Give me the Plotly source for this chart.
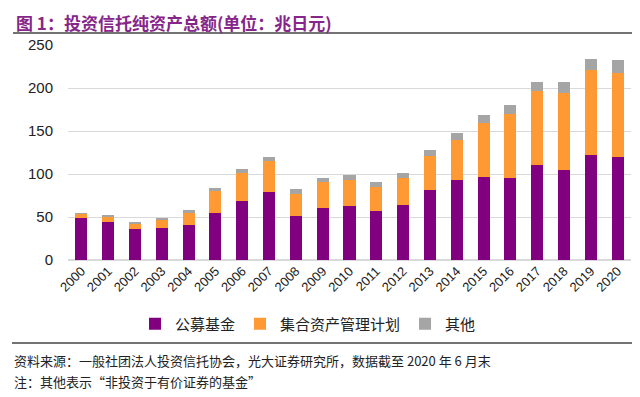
import plotly.graph_objects as go

years = [str(y) for y in range(2000, 2021)]
public_funds = [48.4, 44.6, 35.7, 36.8, 40.3, 54.7, 68.2, 79.1, 51.2, 60.5, 62.8, 56.6, 63.6, 81.0, 92.6, 96.9, 95.7, 110.1, 104.3, 122.5, 119.8]
collective = [5.1, 5.8, 6.9, 10.5, 15.5, 25.5, 32.6, 35.6, 25.9, 29.8, 30.6, 28.7, 31.7, 39.9, 46.9, 62.0, 73.7, 86.0, 89.9, 98.8, 98.0]
others = [0.4, 1.9, 2.0, 1.9, 2.3, 3.5, 5.0, 5.5, 5.1, 5.4, 5.4, 5.0, 5.5, 7.4, 8.2, 9.7, 10.8, 11.3, 12.4, 12.8, 14.4]
series_names = ["公募基金", "集合资产管理计划", "其他"]
colors = ["#800080", "#FF9933", "#A5A5A5"]
y_ticks = [0, 50, 100, 150, 200, 250]

# page has an 8px body margin: work in page pixels, convert to figure pixels
OFF = 8
W, H = 640 - OFF, 397 - OFF
L, R, T, B = 68 - OFF, W - (631 - OFF), 45 - OFF, H - (260 - OFF)
PW, PH = W - L - R, H - T - B

def px(x):
    return (x - OFF - L) / PW

def py(y):
    return (H - B - (y - OFF)) / PH

fig = go.Figure()
for name, vals, c in zip(series_names, [public_funds, collective, others], colors):
    fig.add_trace(go.Bar(x=years, y=vals, name=name, marker=dict(color=c, line=dict(width=0))))

fig.update_layout(
    width=W, height=H,
    barmode="stack", bargap=0.55,
    plot_bgcolor="white", paper_bgcolor="white",
    margin=dict(l=L, r=R, t=T, b=B, autoexpand=False),
    font=dict(family="Liberation Sans, Noto Sans CJK SC", color="#222222"),
    xaxis=dict(type="category", tickangle=-45, tickfont=dict(size=13, color="#222222"),
               showline=False, ticks="", showgrid=False, automargin=False),
    yaxis=dict(range=[0, 250], tickvals=y_ticks, tickfont=dict(size=15, color="#222222"),
               showgrid=True, gridcolor="#D9D9D9", gridwidth=1, zeroline=True,
               zerolinecolor="#D9D9D9", ticks="outside", ticklen=11,
               tickcolor="rgba(0,0,0,0)", automargin=False),
    showlegend=True,
    legend=dict(orientation="h", x=(135 - OFF) / W, xref="container", xanchor="left",
                y=(397 - 324) / H, yref="container", yanchor="middle",
                font=dict(size=15, family="Noto Sans CJK SC", color="#222222"),
                traceorder="normal", itemwidth=30),
    annotations=[
        dict(text="<b>图 1：投资信托纯资产总额(单位：兆日元)</b>", xref="paper", yref="paper",
             x=px(14), y=py(8), xanchor="left", yanchor="top", showarrow=False,
             font=dict(size=17, color="#86268A", family="Noto Sans CJK SC")),
        dict(text="资料来源：一般社团法人投资信托协会，光大证券研究所，数据截至 2020 年 6 月末", xref="paper", yref="paper",
             x=px(12), y=py(360), xanchor="left", yanchor="middle", showarrow=False,
             font=dict(size=13, color="#222222", family="Noto Sans CJK SC")),
        dict(text="注：其他表示“非投资于有价证券的基金”", xref="paper", yref="paper",
             x=px(12), y=py(382), xanchor="left", yanchor="middle", showarrow=False,
             font=dict(size=13, color="#222222", family="Noto Sans CJK SC")),
    ],
    shapes=[
        dict(type="line", xref="paper", yref="paper", x0=px(13), x1=px(640),
             y0=py(33), y1=py(33), line=dict(color="#444444", width=1.5)),
        dict(type="line", xref="paper", yref="paper", x0=px(12), x1=px(640),
             y0=py(343), y1=py(343), line=dict(color="#444444", width=1.5)),
    ],
)

fig.write_html("out.html")
